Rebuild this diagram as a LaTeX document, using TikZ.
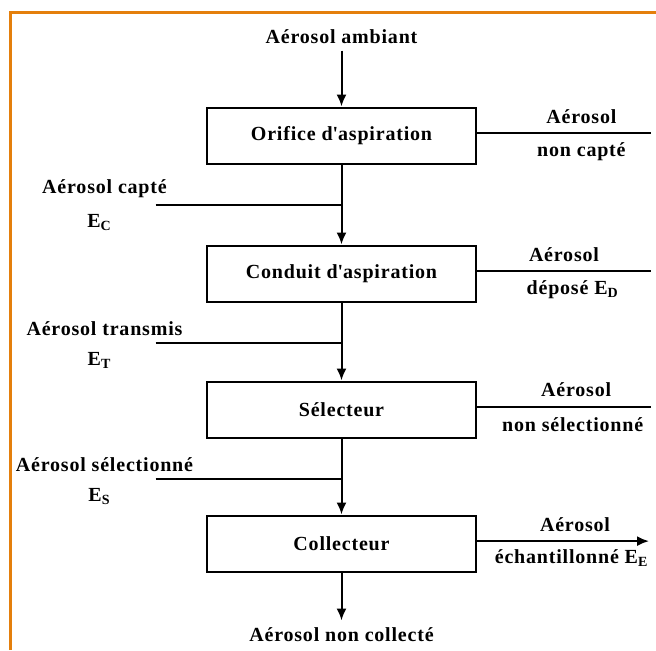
\documentclass[tikz,border=0pt]{standalone}
\usepackage{fontspec}
\setmainfont{Liberation Serif}[LetterSpace=4]
\usepackage{xcolor}
\usetikzlibrary{arrows.meta,positioning,calc}
\definecolor{frameorange}{HTML}{E47F0C}

\begin{document}
\begin{tikzpicture}[node distance=40pt, every node/.style={font=\bfseries\fontsize{10}{12}\selectfont},
  box/.style={draw, line width=1pt, minimum width=134.5pt, minimum height=28pt, inner sep=0pt},
  flow/.style={line width=1pt},
  arr/.style={flow, -{Latex[length=6pt,width=5pt]}}]
  \useasboundingbox (0,0) rectangle (328pt,-325pt);
  \draw[frameorange, line width=1.5pt] (5pt,-325pt) -- (5pt,-6pt) -- (328pt,-6pt);
  % chain of boxes
  \node[box] (orifice) at (170.75pt,-67.75pt) {Orifice d\textquotesingle aspiration};
  \node[box, below=40pt of orifice] (conduit) {Conduit d\textquotesingle aspiration};
  \node[box, below=39pt of conduit] (selecteur) {Sélecteur};
  \node[box, below=38pt of selecteur] (collecteur) {Collecteur};
  \node[above=28pt of orifice] (ambiant) {Aérosol ambiant};
  \node[below=24pt of collecteur] (noncollecte) {Aérosol non collecté};
  \draw[arr] (ambiant) -- (orifice);
  \draw[arr] (orifice) -- (conduit);
  \draw[arr] (conduit) -- (selecteur);
  \draw[arr] (selecteur) -- (collecteur);
  \draw[arr] (collecteur) -- (noncollecte);
  % inputs on the left
  \coordinate[below=20pt of orifice.south] (jcapte);
  \coordinate[left=93pt of jcapte] (capte);
  \draw[flow] (capte) -- (jcapte);
  \node[above=0pt of capte, xshift=-25.5pt] (lcapte) {Aérosol capté};
  \node[below=1.5pt of capte, xshift=-28pt] (ecapte) {E\textsubscript{C}};
  \coordinate[below=20pt of conduit.south] (jtransmis);
  \coordinate[left=93pt of jtransmis] (transmis);
  \draw[flow] (transmis) -- (jtransmis);
  \node[above=0pt of transmis, xshift=-25.5pt] (ltransmis) {Aérosol transmis};
  \node[below=1.5pt of transmis, xshift=-28pt] (etransmis) {E\textsubscript{T}};
  \coordinate[below=20pt of selecteur.south] (jselect);
  \coordinate[left=93pt of jselect] (select);
  \draw[flow] (select) -- (jselect);
  \node[above=0pt of select, xshift=-25.5pt] (lselect) {Aérosol sélectionné};
  \node[below=1.5pt of select, xshift=-28pt] (eselect) {E\textsubscript{S}};
  % outputs on the right
  \coordinate[right=87pt of orifice.east, yshift=1.2pt] (noncapte);
  \draw[flow] ([yshift=1.2pt]orifice.east) -- node[pos=0.6, above=1pt]{Aérosol} node[pos=0.6, below=1pt]{non capté} (noncapte);
  \coordinate[right=87pt of conduit.east, yshift=1.2pt] (depose);
  \draw[flow] ([yshift=1.2pt]conduit.east) -- node[pos=0.5, above=1pt]{Aérosol} node[pos=0.55, below=1pt]{déposé E\textsubscript{D}} (depose);
  \coordinate[right=87pt of selecteur.east, yshift=1.2pt] (nonselect);
  \draw[flow] ([yshift=1.2pt]selecteur.east) -- node[pos=0.57, above=1.5pt]{Aérosol} node[pos=0.55, below=1.5pt]{non sélectionné} (nonselect);
  \coordinate[right=86pt of collecteur.east, yshift=1.2pt] (echant);
  \draw[arr] ([yshift=1.2pt]collecteur.east) -- node[pos=0.57, above=1pt]{Aérosol} node[pos=0.55, below=0.5pt]{échantillonné E\textsubscript{E}} (echant);
\end{tikzpicture}
\end{document}
